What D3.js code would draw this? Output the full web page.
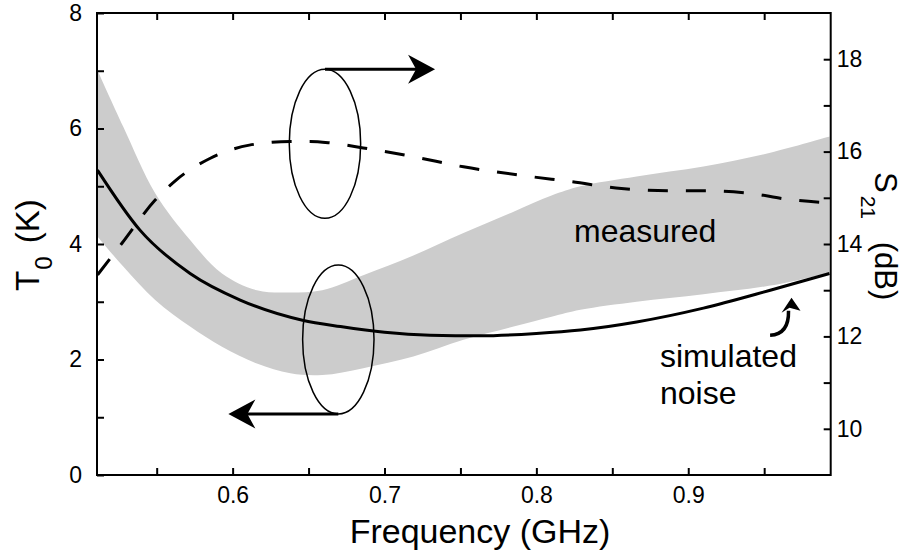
<!DOCTYPE html>
<html>
<head>
<meta charset="utf-8">
<script src="https://cdn.jsdelivr.net/npm/d3@7/dist/d3.min.js"></script>
<style>
  html, body { margin: 0; padding: 0; background: #fff; }
  svg { display: block; }
  text { font-family: "Liberation Sans", Arial, Helvetica, sans-serif; fill: #000; }
</style>
</head>
<body>
<svg id="chart" width="905" height="553"></svg>
<script>
// Frequency ticks (GHz)
const xTicks = [0.55, 0.60, 0.65, 0.70, 0.75, 0.80, 0.85, 0.90, 0.95];
const xTickLabels = ["", "0.6", "", "0.7", "", "0.8", "", "0.9", ""];
// Noise temperature ticks (K)
const tTicks = [0, 1, 2, 3, 4, 5, 6, 7, 8];
const tTickLabels = ["0", "", "2", "", "4", "", "6", "", "8"];
// S21 ticks (dB)
const sTicks = [10, 11, 12, 13, 14, 15, 16, 17, 18];
const sTickLabels = ["10", "", "12", "", "14", "", "16", "", "18"];

// Simulated noise temperature T0 (K)
const simFreq = [0.511, 0.539, 0.572, 0.605, 0.646, 0.671, 0.700, 0.730, 0.763, 0.800, 0.829, 0.866, 0.910, 0.954, 0.993];
const simT0   = [5.28, 4.24, 3.49, 3.03, 2.68, 2.57, 2.47, 2.42, 2.41, 2.45, 2.51, 2.65, 2.89, 3.20, 3.49];

// Measured noise temperature T0 range (K)
const bandFreq = [0.511, 0.528, 0.549, 0.572, 0.593, 0.616, 0.638, 0.659, 0.686, 0.719, 0.752, 0.785, 0.810, 0.829, 0.866, 0.910, 0.954, 0.993];
const bandHigh = [7.01, 6.03, 4.88, 4.07, 3.49, 3.20, 3.16, 3.20, 3.46, 3.80, 4.19, 4.56, 4.84, 5.00, 5.17, 5.34, 5.58, 5.86];
const bandLow  = [4.13, 3.61, 3.03, 2.57, 2.22, 1.93, 1.76, 1.73, 1.85, 2.05, 2.34, 2.57, 2.74, 2.86, 3.00, 3.13, 3.28, 3.50];

// Measured S21 (dB)
const s21Freq = [0.511, 0.527, 0.549, 0.563, 0.585, 0.611, 0.638, 0.651, 0.664, 0.686, 0.719, 0.752, 0.796, 0.823, 0.856, 0.889, 0.914, 0.940, 0.965, 0.993];
const s21dB   = [13.33, 14.01, 14.95, 15.39, 15.85, 16.14, 16.22, 16.22, 16.19, 16.08, 15.89, 15.67, 15.46, 15.35, 15.20, 15.15, 15.15, 15.10, 14.97, 14.89];

const FONT = '"Liberation Sans", Arial, Helvetica, sans-serif';
const svg = d3.select("#chart");
const m = { left: 97, top: 13, right: 905 - 830.7, bottom: 553 - 475 };
const W = 905 - m.left - m.right, H = 553 - m.top - m.bottom;

const x = d3.scaleLinear().domain([0.5107, 0.9938]).range([0, W]);
const yT = d3.scaleLinear().domain([0, 8]).range([H, 0]);
const yS = d3.scaleLinear().domain([9, 19]).range([H, 0]);

const g = svg.append("g").attr("transform", `translate(${m.left},${m.top})`);

g.append("clipPath").attr("id", "plotClip")
  .append("rect").attr("width", W).attr("height", H);
const plot = g.append("g").attr("clip-path", "url(#plotClip)");

// measured T0 band
const band = bandFreq.map((f, i) => ({ f, lo: bandLow[i], hi: bandHigh[i] }));
plot.append("path")
  .datum(band)
  .attr("fill", "#cccccc")
  .attr("d", d3.area().curve(d3.curveCatmullRom.alpha(0.5))
    .x(d => x(d.f)).y0(d => yT(d.lo)).y1(d => yT(d.hi)));

// simulated T0
plot.append("path")
  .datum(simFreq.map((f, i) => ({ f, v: simT0[i] })))
  .attr("fill", "none").attr("stroke", "#000").attr("stroke-width", 3)
  .attr("d", d3.line().curve(d3.curveMonotoneX).x(d => x(d.f)).y(d => yT(d.v)));

// measured S21
plot.append("path")
  .datum(s21Freq.map((f, i) => ({ f, v: s21dB[i] })))
  .attr("fill", "none").attr("stroke", "#000").attr("stroke-width", 3)
  .attr("stroke-dasharray", "20,18")
  .attr("d", d3.line().curve(d3.curveMonotoneX).x(d => x(d.f)).y(d => yS(d.v)));

// axes (ticks point inward)
const fmt = (labels, ticks) => v => labels[ticks.findIndex(t => Math.abs(t - v) < 1e-9)] || "";

function styleAxis(sel, size) {
  sel.select(".domain").remove();
  sel.selectAll(".tick line").attr("stroke", "#000").attr("stroke-width", 2);
  sel.selectAll(".tick text").style("font-size", size + "px")
    .style("font-family", FONT).attr("fill", "#000");
}

g.append("g").attr("transform", `translate(0,${H})`)
  .call(d3.axisBottom(x).tickValues(xTicks).tickSize(-7).tickPadding(12).tickFormat(fmt(xTickLabels, xTicks)))
  .call(s => styleAxis(s, 23));
g.append("g")
  .call(d3.axisTop(x).tickValues(xTicks).tickSize(-7).tickFormat(""))
  .call(s => styleAxis(s, 23));
g.append("g")
  .call(d3.axisLeft(yT).tickValues(tTicks).tickSize(-7).tickPadding(15).tickFormat(fmt(tTickLabels, tTicks)))
  .call(s => styleAxis(s, 23));
g.append("g").attr("transform", `translate(${W},0)`)
  .call(d3.axisRight(yS).tickValues(sTicks).tickSize(-7).tickPadding(6).tickFormat(fmt(sTickLabels, sTicks)))
  .call(s => styleAxis(s, 23));

// frame
g.append("rect").attr("width", W).attr("height", H)
  .attr("fill", "none").attr("stroke", "#000").attr("stroke-width", 2);

// axis titles
svg.append("text").attr("x", 480).attr("y", 543).attr("text-anchor", "middle")
  .style("font-size", "34px").text("Frequency (GHz)");

const tl = svg.append("text").attr("transform", "translate(39,291) rotate(-90)")
  .attr("text-anchor", "start").style("font-size", "33px");
tl.append("tspan").text("T");
tl.append("tspan").attr("dy", 13).attr("dx", 1).style("font-size", "24px").text("0");
tl.append("tspan").attr("dy", -13).attr("dx", 4).text(" (K)");

const sl = svg.append("text").attr("transform", "translate(875,172) rotate(90)")
  .attr("text-anchor", "start").style("font-size", "31px");
sl.append("tspan").text("S");
sl.append("tspan").attr("dy", 14).attr("dx", 3).style("font-size", "21px").text("21");
sl.append("tspan").attr("dy", -14).attr("dx", 14).text(" (dB)");

// annotations: grouping ellipses with arrows pointing at the matching axis
function arrowHead(tx, ty, dir) {
  const L = 27, hw = 14.5, notch = 8;
  return `M${tx},${ty} L${tx - dir * L},${ty - hw} L${tx - dir * (L - notch)},${ty} L${tx - dir * L},${ty + hw} Z`;
}

const upC = { f: 0.6608, v: 5.735 }, loC = { f: 0.6696, v: 2.346 };
const rx = x(0.5107 + 0.0235) - x(0.5107), ry = yT(0) - yT(1.29);

g.append("ellipse").attr("cx", x(upC.f)).attr("cy", yT(upC.v)).attr("rx", rx).attr("ry", ry)
  .attr("fill", "none").attr("stroke", "#000").attr("stroke-width", 1.5);
g.append("ellipse").attr("cx", x(loC.f)).attr("cy", yT(loC.v)).attr("rx", rx).attr("ry", ry)
  .attr("fill", "none").attr("stroke", "#000").attr("stroke-width", 1.5);

// right-pointing arrow from top of upper ellipse (S21 axis)
const ua = { x0: x(upC.f), y: yT(upC.v) - ry, x1: x(0.7333) };
g.append("line").attr("x1", ua.x0).attr("x2", ua.x1 - 15).attr("y1", ua.y).attr("y2", ua.y)
  .attr("stroke", "#000").attr("stroke-width", 3);
g.append("path").attr("d", arrowHead(ua.x1, ua.y, 1)).attr("fill", "#000");

// left-pointing arrow from bottom of lower ellipse (T0 axis)
const la = { x0: x(loC.f), y: yT(loC.v) + ry, x1: x(0.5972) };
g.append("line").attr("x1", la.x0).attr("x2", la.x1 + 15).attr("y1", la.y).attr("y2", la.y)
  .attr("stroke", "#000").attr("stroke-width", 3);
g.append("path").attr("d", arrowHead(la.x1, la.y, -1)).attr("fill", "#000");

// labels inside the plot
g.append("text").attr("x", x(0.8248)).attr("y", yT(4.04)).style("font-size", "32px").text("measured");
g.append("text").attr("x", x(0.8814)).attr("y", yT(1.875)).style("font-size", "32px").text("simulated");
g.append("text").attr("x", x(0.8814)).attr("y", yT(1.23)).style("font-size", "32px").text("noise");

// small curved arrow pointing at the simulated curve
const cs = { x: x(0.9539), y: yT(2.42) };
const ct = { x: x(0.9680), y: yT(3.07) };
g.append("path")
  .attr("d", `M${cs.x},${cs.y} Q${cs.x + 19},${cs.y - 1} ${ct.x - 3},${ct.y + 13}`)
  .attr("fill", "none").attr("stroke", "#000").attr("stroke-width", 3.5);
g.append("path")
  .attr("d", `M${ct.x},${ct.y} L${ct.x - 10},${ct.y + 15} L${ct.x - 2},${ct.y + 10} L${ct.x + 9},${ct.y + 13} Z`)
  .attr("fill", "#000");
</script>
</body>
</html>
